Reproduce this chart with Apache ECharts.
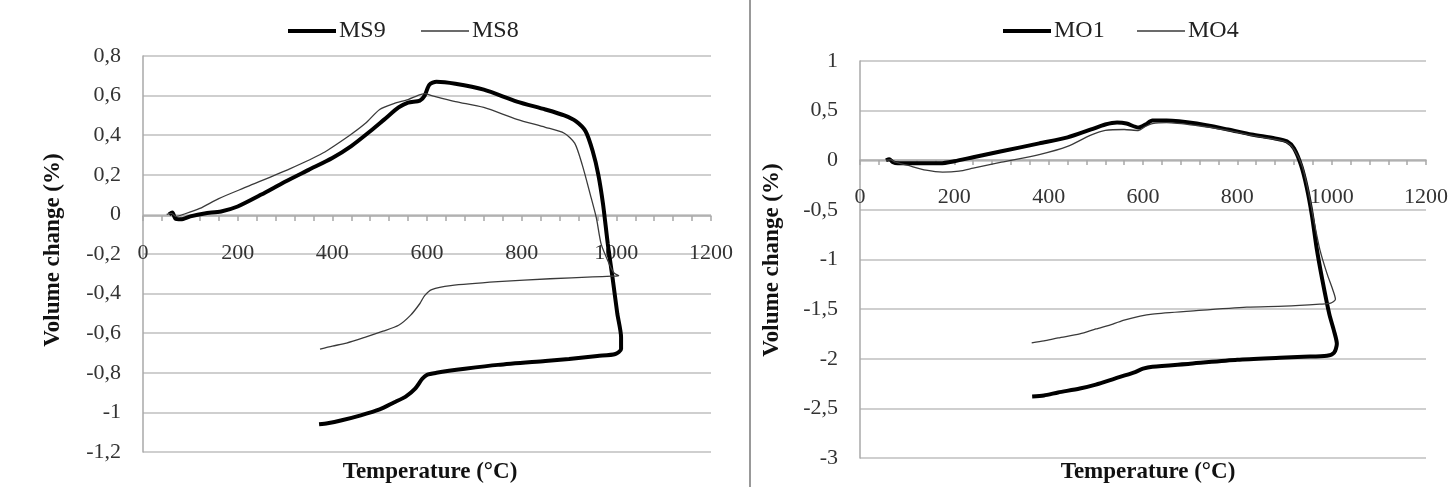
<!DOCTYPE html>
<html>
<head>
<meta charset="utf-8">
<title>Volume change</title>
<script src="https://cdn.jsdelivr.net/npm/echarts@6/dist/echarts.min.js"></script>
<style>
  html, body { margin: 0; padding: 0; background: #fff; }
  #chart { width: 1453px; height: 487px; }
</style>
</head>
<body>
<div id="chart"></div>
<script>
// [temperature, volume change %]
var ms9 = [[55,0],[62,0.01],[68,-0.02],[80,-0.025],[100,-0.01],[130,0.005],[165,0.015],[200,0.04],[250,0.1],[300,0.165],[350,0.225],[400,0.285],[440,0.345],[480,0.42],[510,0.48],[540,0.54],[560,0.565],[585,0.575],[595,0.6],[605,0.655],[620,0.67],[660,0.66],[720,0.63],[790,0.57],[850,0.53],[890,0.5],[915,0.47],[935,0.42],[950,0.32],[962,0.2],[972,0.05],[982,-0.15],[992,-0.32],[1002,-0.5],[1010,-0.62],[1010,-0.68],[998,-0.705],[960,-0.715],[900,-0.73],[850,-0.74],[750,-0.76],[680,-0.78],[620,-0.8],[600,-0.81],[590,-0.83],[575,-0.88],[555,-0.92],[530,-0.95],[500,-0.985],[460,-1.015],[420,-1.04],[390,-1.055],[372,-1.06]];
var ms8 = [[50,0],[60,0.005],[70,-0.01],[85,0],[120,0.03],[160,0.08],[220,0.14],[310,0.23],[380,0.31],[437,0.4],[470,0.46],[500,0.53],[530,0.56],[560,0.58],[580,0.6],[595,0.61],[610,0.6],[660,0.57],[720,0.54],[790,0.48],[850,0.44],[890,0.41],[912,0.36],[928,0.25],[945,0.1],[958,-0.02],[968,-0.15],[985,-0.25],[995,-0.295],[1005,-0.31],[990,-0.312],[950,-0.316],[860,-0.325],[750,-0.34],[650,-0.36],[610,-0.38],[595,-0.41],[585,-0.45],[565,-0.51],[540,-0.56],[507,-0.59],[470,-0.62],[430,-0.65],[400,-0.665],[374,-0.68]];
var mo1 = [[55,0],[62,0.01],[70,-0.02],[80,-0.03],[110,-0.03],[170,-0.03],[200,-0.01],[240,0.03],[300,0.09],[380,0.17],[440,0.23],[490,0.31],[520,0.36],[545,0.38],[565,0.37],[590,0.33],[605,0.36],[620,0.4],[650,0.4],[714,0.37],[780,0.31],[830,0.26],[880,0.22],[905,0.19],[920,0.12],[935,-0.05],[947,-0.27],[958,-0.55],[968,-0.88],[980,-1.2],[995,-1.55],[1005,-1.72],[1011,-1.85],[1005,-1.94],[990,-1.97],[940,-1.98],[890,-1.99],[800,-2.01],[700,-2.05],[620,-2.08],[600,-2.1],[580,-2.14],[540,-2.2],[500,-2.26],[466,-2.3],[420,-2.34],[390,-2.37],[365,-2.38]];
var mo4 = [[55,0],[65,0.005],[75,-0.02],[100,-0.05],[140,-0.1],[175,-0.12],[210,-0.11],[240,-0.08],[300,-0.02],[382,0.06],[440,0.14],[488,0.25],[520,0.3],[560,0.31],[590,0.3],[605,0.34],[620,0.37],[650,0.38],[714,0.35],[780,0.3],[830,0.25],[880,0.21],[905,0.18],[920,0.11],[937,-0.05],[950,-0.3],[962,-0.6],[975,-0.9],[990,-1.14],[1002,-1.3],[1008,-1.4],[998,-1.44],[975,-1.45],[900,-1.47],[820,-1.48],[700,-1.52],[620,-1.55],[594,-1.57],[560,-1.61],[536,-1.65],[500,-1.7],[466,-1.75],[420,-1.79],[390,-1.82],[364,-1.84]];

var xTitle = 'Temperature (°C)';
var yTitle = 'Volume change (%)';

var FONT = '"Liberation Serif", "DejaVu Serif", serif';
var GRID_C = '#bfbfbf';
var AXIS_C = '#a8a8a8';

function comma(v) {
    return String(+v.toFixed(2)).replace('.', ',');
}

// x axis sits on the zero line; offset pulls it up from the grid bottom
function xAx(idx, off) {
    return {
        type: 'value', gridIndex: idx, min: 0, max: 1200, interval: 200,
        position: 'bottom', offset: off,
        axisLine: { onZero: false, lineStyle: { color: AXIS_C, width: 1.5 } },
        axisTick: { show: true, length: 5, lineStyle: { color: AXIS_C, width: 1.5 } },
        minorTick: { show: true, splitNumber: 5, length: 5, lineStyle: { color: AXIS_C, width: 1.5 } },
        axisLabel: { margin: 26, color: '#333', fontFamily: FONT, fontSize: 22, formatter: function (v) { return String(v); } },
        splitLine: { show: false }
    };
}

function yAx(idx, lo, hi, step) {
    return {
        type: 'value', gridIndex: idx, min: lo, max: hi, interval: step,
        axisLine: { show: true, onZero: false, lineStyle: { color: AXIS_C, width: 1.5 } },
        axisTick: { show: false },
        axisLabel: { margin: 22, color: '#333', fontFamily: FONT, fontSize: 22, formatter: comma },
        splitLine: { lineStyle: { color: GRID_C, width: 1.5 } }
    };
}

function ser(name, data, idx, thick) {
    return {
        name: name, type: 'line', data: data,
        xAxisIndex: idx, yAxisIndex: idx,
        symbol: 'none', smooth: 0.25,
        lineStyle: { color: thick ? '#000' : '#3a3a3a', width: thick ? 4 : 1.3 },
        itemStyle: { color: thick ? '#000' : '#3a3a3a' },
        z: thick ? 3 : 4
    };
}

function legendAt(left, name, thick) {
    return {
        left: left, top: 14, data: [name], icon: 'rect',
        itemWidth: 48, itemHeight: thick ? 4 : 1.5,
        textStyle: { fontFamily: FONT, fontSize: 24, color: '#222', padding: [0, 0, 0, -2] }
    };
}

var chart = echarts.init(document.getElementById('chart'));
chart.setOption({
    animation: false,
    backgroundColor: '#fff',
    grid: [
        { left: 143, top: 56, width: 568, height: 396 },
        { left: 860, top: 61, width: 566, height: 397 }
    ],
    xAxis: [xAx(0, -236), xAx(1, -298)],
    yAxis: [yAx(0, -1.2, 0.8, 0.2), yAx(1, -3, 1, 0.5)],
    legend: [
        legendAt(283, 'MS9', true), legendAt(416, 'MS8', false),
        legendAt(998, 'MO1', true), legendAt(1132, 'MO4', false)
    ],
    series: [
        ser('MS9', ms9, 0, true),
        ser('MS8', ms8, 0, false),
        ser('MO1', mo1, 1, true),
        ser('MO4', mo4, 1, false)
    ],
    graphic: [
        { type: 'line', shape: { x1: 750, y1: 0, x2: 750, y2: 487 }, style: { stroke: '#999', lineWidth: 2 } },
        { type: 'text', x: 430, y: 472, style: { text: xTitle, align: 'center', verticalAlign: 'middle', font: 'bold 23px ' + FONT, fill: '#111' } },
        { type: 'text', x: 1148, y: 472, style: { text: xTitle, align: 'center', verticalAlign: 'middle', font: 'bold 23px ' + FONT, fill: '#111' } },
        { type: 'text', x: 53, y: 250, rotation: Math.PI / 2, style: { text: yTitle, align: 'center', verticalAlign: 'middle', font: 'bold 23px ' + FONT, fill: '#111' } },
        { type: 'text', x: 772, y: 260, rotation: Math.PI / 2, style: { text: yTitle, align: 'center', verticalAlign: 'middle', font: 'bold 23px ' + FONT, fill: '#111' } }
    ]
});
</script>
</body>
</html>
